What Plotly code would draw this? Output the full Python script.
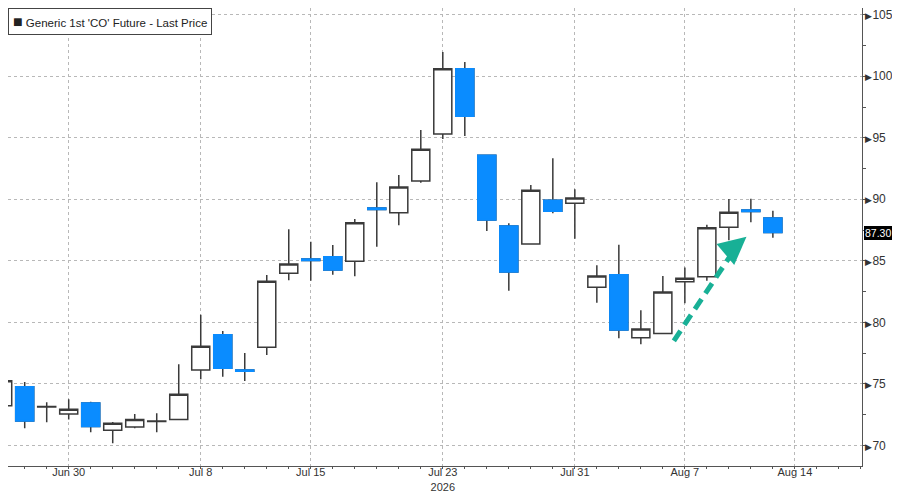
import plotly.graph_objects as go
import pandas as pd

# trading days shown (weekdays), Jun 25 .. Aug 13 2026
dates = pd.bdate_range("2026-06-25", "2026-08-13")

open_ = [73.22, 74.76, 73.12, 72.54, 73.44, 71.22, 71.49, 71.93, 72.11, 76.12,
         78.99, 76.13, 77.97, 83.98, 85.15, 85.33, 84.96, 89.30, 88.91, 91.49,
         95.31, 100.62, 93.59, 87.83, 86.37, 89.92, 89.67, 82.85, 83.87, 78.75,
         79.10, 83.30, 83.71, 87.72, 89.13, 88.48]
high = [75.50, 75.15, 73.50, 73.74, 73.54, 71.90, 72.54, 72.60, 76.59, 80.62,
        79.29, 77.50, 83.85, 87.56, 86.55, 86.28, 88.40, 91.38, 91.98, 95.63,
        101.98, 101.16, 93.59, 88.05, 91.16, 93.33, 90.81, 84.63, 86.31, 80.98,
        83.76, 84.45, 87.93, 90.02, 90.05, 89.07]
low = [73.00, 71.38, 71.87, 72.11, 71.06, 70.16, 71.38, 71.06, 72.11, 75.37,
       75.58, 75.23, 77.34, 83.41, 83.38, 83.87, 83.74, 86.15, 87.89, 91.35,
       94.90, 95.15, 87.42, 82.57, 86.37, 88.86, 86.80, 81.59, 78.70, 78.21,
       79.10, 81.54, 83.38, 86.67, 88.13, 86.88]
close = [75.25, 71.98, 73.16, 72.93, 71.54, 71.79, 72.11, 71.97, 74.15, 78.05,
         76.26, 76.02, 83.33, 84.74, 85.03, 84.25, 88.10, 89.18, 91.00, 94.07,
         100.62, 96.75, 88.32, 84.09, 90.74, 89.02, 90.11, 83.76, 79.37, 79.46,
         82.46, 83.58, 87.69, 88.94, 89.01, 87.30]

label_dates = ["2026-06-30", "2026-07-08", "2026-07-15", "2026-07-23",
               "2026-07-31", "2026-08-07", "2026-08-14"]
label_text = ["Jun 30", "Jul 8", "Jul 15", "Jul 23<br>2026", "Jul 31", "Aug 7", "Aug 14"]
price_ticks = [70, 75, 80, 85, 90, 95, 100, 105]

BLUE = "#0a8cff"
GREY = "#3a3a3a"
TEAL = "#18b096"

x = list(range(len(dates)))
start = dates[0]
label_pos = [len(pd.bdate_range(start, d)) - 1 for d in label_dates]

# down candles: body only, so the blue body gets a blue outline
dn = [i for i in x if close[i] < open_[i]]

fig = go.Figure()
fig.add_trace(go.Candlestick(
    x=x, open=open_, high=high, low=low, close=close,
    increasing=dict(line=dict(color=GREY, width=1.5), fillcolor="white"),
    decreasing=dict(line=dict(color=GREY, width=1.5), fillcolor=BLUE),
    hoverinfo="skip", showlegend=False,
))
fig.add_trace(go.Candlestick(
    x=dn,
    open=[open_[i] for i in dn], close=[close[i] for i in dn],
    high=[open_[i] for i in dn], low=[close[i] for i in dn],
    increasing=dict(line=dict(color=BLUE, width=1.5), fillcolor=BLUE),
    decreasing=dict(line=dict(color=BLUE, width=1.5), fillcolor=BLUE),
    hoverinfo="skip", showlegend=False,
))

# dashed trend arrow
fig.add_shape(type="line", xref="x", yref="y",
              x0=30.5, y0=78.5, x1=33.4, y1=86.3,
              line=dict(color=TEAL, width=5, dash="12px,7px"))
fig.add_annotation(x=33.8, y=86.95, ax=33.3, ay=86.2, xref="x", yref="y",
                   axref="x", ayref="y", text="", showarrow=True,
                   arrowhead=2, arrowsize=1.1, arrowwidth=5, arrowcolor=TEAL,
                   standoff=0)

# legend box
fig.add_annotation(xref="paper", yref="paper", x=0, y=1, xanchor="left", yanchor="top",
                   text="<span style='font-size:16px'>■</span> Generic 1st 'CO' Future - Last Price",
                   showarrow=False, bgcolor="white", bordercolor="#444", borderwidth=1,
                   borderpad=4, font=dict(size=11.5, color="#222"))

# last price tag
fig.add_annotation(xref="paper", yref="y", x=1, y=close[-1], xanchor="left",
                   xshift=2, text=f"{close[-1]:.2f}", showarrow=False,
                   bgcolor="black", bordercolor="black", borderpad=0,
                   font=dict(size=10.5, color="white"))

# the page puts the figure 8px in from the window corner
fig.update_layout(
    width=892, height=484,
    margin=dict(l=0, r=38, t=0, b=26),
    paper_bgcolor="white", plot_bgcolor="white",
    font=dict(family="Liberation Sans", size=11, color="#333"),
    boxgap=0.18, boxgroupgap=0,
    showlegend=False,
)
fig.update_xaxes(
    range=[0.241, 39.05], rangeslider_visible=False, automargin=False,
    tickvals=label_pos, ticktext=label_text,
    ticks="outside", ticklen=2, tickcolor="#555", ticklabelstandoff=-6,
    ticklabeloverflow="allow",
    minor=dict(ticks="outside", ticklen=2, dtick=1, tick0=0, tickcolor="#555", showgrid=False),
    showgrid=True, gridcolor="#b8b8b8", griddash="dot", gridwidth=1,
    showline=True, linecolor="#555", linewidth=1, zeroline=False,
)
fig.update_yaxes(
    side="right", range=[68.32, 105.55], automargin=False,
    tickvals=price_ticks,
    ticktext=[f"<span style='font-size:9px'>▶</span>{v}" for v in price_ticks],
    ticks="", ticklabelstandoff=0, tickfont=dict(size=12),
    ticklabeloverflow="allow",
    minor=dict(ticks="outside", ticklen=3, dtick=2.5, tick0=0, tickcolor="#555", showgrid=False),
    showgrid=True, gridcolor="#b8b8b8", griddash="dot", gridwidth=1,
    showline=True, linecolor="#555", linewidth=1, zeroline=False,
)

fig.write_html("out.html")
